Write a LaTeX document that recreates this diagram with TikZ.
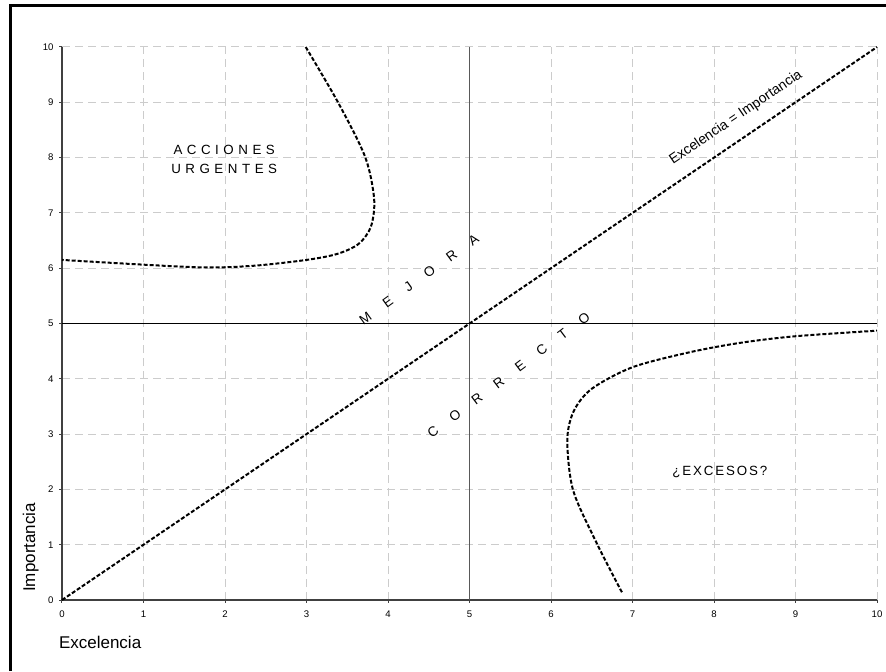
\documentclass[tikz,border=0pt]{standalone}
\usepackage{fontspec}
\setmainfont{Liberation Sans}
\newfontfamily\wide[LetterSpace=34]{Liberation Sans}
\newfontfamily\narrow[LetterSpace=14]{Liberation Sans}
\newfontfamily\wider[LetterSpace=128]{Liberation Sans}

\begin{document}
\begin{tikzpicture}[x=61.125pt,y=41.475pt,
  gridline/.style={gray!40, line width=0.75pt, dash pattern=on 6pt off 3.75pt},
  limit/.style={line width=1.5pt, dash pattern=on 3pt off 1.5pt},
  ticklabel/.style={font=\fontsize{7.2}{8}\selectfont, inner sep=0pt},
  zone/.style={font=\wide\fontsize{10}{13.9}\selectfont, align=center, inner sep=0pt},
  slanted/.style={font=\wider\fontsize{10.2}{12}\selectfont, inner sep=0pt}]
\useasboundingbox (-0.7607,-1.2839) rectangle (10.110,10.850);
% frame
\draw[line width=2.25pt] (-0.628,-1.2839) |- (10.110,10.75);
% grid
\foreach \o in {1,...,10}{
  \draw[gridline] (\o,0) -- (\o,10);
  \draw[gridline] (0,\o) -- (10,\o);
}
% axes
\draw[line width=1.1pt, black!75] (0,10) -- (0,0) -- (10,0);
\foreach \o in {0,...,10}{
  \draw[black!75, line width=0.75pt] (\o,0) -- ++(0,-2.25pt);
  \draw[black!75, line width=0.75pt] (0,\o) -- ++(-2.25pt,0);
  \node[ticklabel] (xtick\o) at (\o,-0.26) {\o};
  \node[ticklabel, anchor=east] (ytick\o) at (-0.1,\o) {\o};
}
\node[anchor=base west, font=\fontsize{12.75}{15}\selectfont, inner sep=0pt] (xlabel) at (-0.04,-0.868) {Excelencia};
\node[anchor=base west, rotate=90, font=\fontsize{12.75}{15}\selectfont, inner sep=0pt] (ylabel) at (-0.331,0.145) {Importancia};
% quadrants
\draw[gray!70!black, line width=1.2pt] (5,0) -- (5,10);
\draw[line width=0.75pt] (0,5) -- (10,5);
% limits
\draw[limit] (0,0) -- (10,10);
\draw[limit] plot[smooth] coordinates {(2.99,10) (3.39,8.99) (3.72,8.01) (3.83,7.25) (3.79,6.75) (3.64,6.44) (3.38,6.26) (3.0,6.15) (2.31,6.04) (1.6,6.02) (0,6.15)};
\draw[limit] plot[smooth] coordinates {(6.87,0.14) (6.56,1.03) (6.27,1.99) (6.2,2.9) (6.28,3.42) (6.5,3.82) (7.0,4.21) (7.7,4.48) (8.32,4.65) (9,4.77) (10,4.87)};
% labels
\node[rotate=34.2, font=\fontsize{10.5}{12}\selectfont, inner sep=0pt] (equal) at (8.27,8.72) {Excelencia = Importancia};
\node[zone] (urgent) at (1.99,7.97) {ACCIONES\\URGENTES};
\node[zone, font=\narrow\fontsize{10}{12}\selectfont] (excess) at (8.07,2.31) {¿EXCESOS?};
\node[slanted, rotate=36] (better) at (4.38,5.80) {MEJORA};
\node[slanted, rotate=37] (right) at (5.48,4.07) {CORRECTO};
\end{tikzpicture}
\end{document}
